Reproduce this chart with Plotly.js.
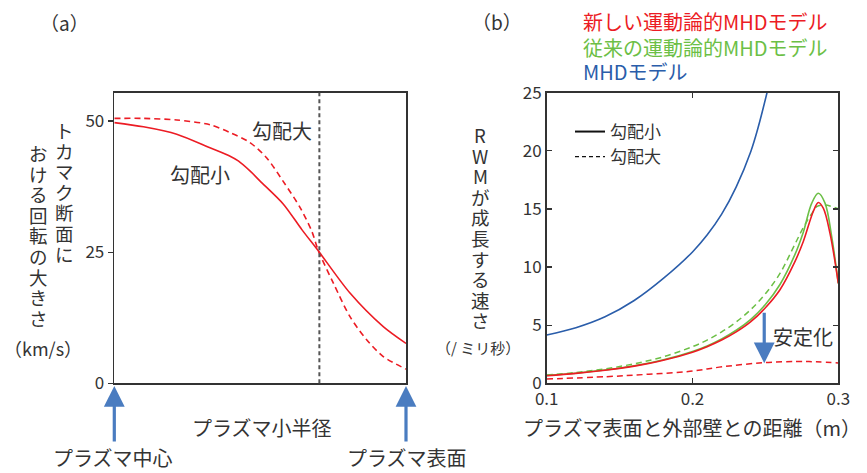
<!DOCTYPE html>
<html>
<head>
<meta charset="utf-8">
<script src="https://cdn.plot.ly/plotly-3.0.1.min.js"></script>
<style>
html,body{margin:0;padding:0;background:#fff;}
#chart{width:867px;height:473px;}
</style>
</head>
<body>
<div id="chart"></div>
<script>
// ---- Panel (a): rotation profile vs plasma minor radius (normalized) ----
const radiusSmall = [0, 0.10, 0.214, 0.328, 0.397, 0.425, 0.465, 0.499, 0.579, 0.643, 0.70, 0.808, 0.922, 1.0];
const rotSmall    = [49.7, 48.9, 47.5, 44.9, 43.3, 42.4, 40.5, 38.6, 34.2, 29.3, 25.2, 17.2, 10.8, 7.6];
const radiusLarge = [0, 0.10, 0.214, 0.328, 0.397, 0.465, 0.522, 0.579, 0.637, 0.677, 0.70, 0.751, 0.808, 0.865, 0.922, 1.0];
const rotLarge    = [50.5, 50.5, 50.2, 49.3, 47.8, 45.9, 43.0, 38.5, 33.5, 29.0, 25.2, 19.1, 12.7, 8.3, 5.1, 2.7];
const boundaryX   = [0.703];
const rotTicks    = [0, 25, 50];

// ---- Panel (b): RWM growth rate vs plasma-wall distance (m) ----
const distMHD   = [0.10, 0.12, 0.14, 0.16, 0.18, 0.20, 0.21, 0.22, 0.23, 0.24, 0.245, 0.2513];
const growthMHD = [4.16, 4.78, 5.72, 7.12, 9.02, 11.3, 12.75, 14.55, 16.9, 19.95, 22.0, 25.1];

const distNewSmall   = [0.10, 0.12, 0.14, 0.16, 0.18, 0.20, 0.21, 0.22, 0.23, 0.24, 0.25, 0.26, 0.27, 0.276, 0.2829, 0.2863, 0.2897, 0.2943, 0.30];
const growthNewSmall = [0.65, 0.85, 1.12, 1.48, 1.98, 2.68, 3.15, 3.72, 4.42, 5.30, 6.50, 8.05, 10.4, 12.2, 14.8, 15.55, 15.06, 12.9, 8.6];

const distOldSmall   = [0.10, 0.12, 0.14, 0.16, 0.18, 0.20, 0.21, 0.22, 0.23, 0.24, 0.25, 0.26, 0.27, 0.276, 0.2818, 0.2863, 0.2909, 0.2955, 0.30];
const growthOldSmall = [0.68, 0.87, 1.14, 1.51, 2.02, 2.74, 3.22, 3.82, 4.56, 5.50, 6.78, 8.50, 11.0, 13.0, 15.5, 16.35, 15.5, 12.6, 8.6];

const distOldLarge   = [0.10, 0.12, 0.14, 0.16, 0.18, 0.20, 0.21, 0.22, 0.23, 0.24, 0.25, 0.26, 0.27, 0.276, 0.2818, 0.2852, 0.2909, 0.2989, 0.30];
const growthOldLarge = [0.71, 0.93, 1.24, 1.68, 2.28, 3.15, 3.72, 4.42, 5.28, 6.35, 7.70, 9.45, 11.9, 13.4, 14.6, 15.2, 15.34, 15.06, 15.0];

const distNewLarge   = [0.10, 0.1412, 0.17, 0.1983, 0.2211, 0.2486, 0.2715, 0.285, 0.30];
const growthNewLarge = [0.37, 0.57, 0.78, 1.03, 1.43, 1.77, 1.88, 1.85, 1.75];

const distTicks   = [0.1, 0.2, 0.3];
const growthTicks = [0, 5, 10, 15, 20, 25];

// ---- Text ----
const panelA = '（a）', panelB = '（b）';
const modelNew = '新しい運動論的MHDモデル';
const modelOld = '従来の運動論的MHDモデル';
const modelMHD = 'MHDモデル';
const gradSmall = '勾配小', gradLarge = '勾配大';
const yTitleA1 = 'トカマク断面に', yTitleA2 = 'おける回転の大きさ', yUnitA = '（km/s）';
const yTitleB = ['R','W','M','が','成','長','す','る','速','さ'], yUnitB = '（/ ミリ秒）';
const xTitleA = 'プラズマ小半径', xTitleB = 'プラズマ表面と外部壁との距離（m）';
const centerLabel = 'プラズマ中心', surfaceLabel = 'プラズマ表面', stabLabel = '安定化';

// ---- Styles ----
const RED = '#ec1c24', GREEN = '#6cbf46', BLUE = '#2a5daa', ARROW = '#4a7cc0', INK = '#333333';
const FONT = 'Noto Sans CJK JP, Noto Sans, sans-serif';
const W = 867, H = 473;
const px = x => x / W, py = y => 1 - y / H;
const SPL = {shape:'spline', smoothing:1};

const traces = [
  {x: radiusSmall, y: rotSmall, xaxis:'x', yaxis:'y', mode:'lines', line:{color:RED, width:1.6, shape:'spline', smoothing:0.8}, showlegend:false},
  {x: radiusLarge, y: rotLarge, xaxis:'x', yaxis:'y', mode:'lines', line:{color:RED, width:1.6, dash:'6px,4px', shape:'spline', smoothing:0.8}, showlegend:false},
  {x: distMHD, y: growthMHD, xaxis:'x2', yaxis:'y2', mode:'lines', line:Object.assign({color:BLUE, width:1.6}, SPL), showlegend:false},
  {x: distOldLarge, y: growthOldLarge, xaxis:'x2', yaxis:'y2', mode:'lines', line:Object.assign({color:GREEN, width:1.5, dash:'6px,4px'}, SPL), showlegend:false},
  {x: distOldSmall, y: growthOldSmall, xaxis:'x2', yaxis:'y2', mode:'lines', line:Object.assign({color:GREEN, width:1.6}, SPL), showlegend:false},
  {x: distNewSmall, y: growthNewSmall, xaxis:'x2', yaxis:'y2', mode:'lines', line:Object.assign({color:RED, width:1.6}, SPL), showlegend:false},
  {x: distNewLarge, y: growthNewLarge, xaxis:'x2', yaxis:'y2', mode:'lines', line:Object.assign({color:RED, width:1.5, dash:'6px,4px'}, SPL), showlegend:false},
  {x: [null], y: [null], xaxis:'x2', yaxis:'y2', mode:'lines', name: gradSmall, line:{color:'#111', width:2}},
  {x: [null], y: [null], xaxis:'x2', yaxis:'y2', mode:'lines', name: gradLarge, line:{color:'#111', width:1.2, dash:'4px,3px'}}
];

const annotations = [];
function txt(text, x, y, size, color, xanchor) {
  annotations.push({text, x: px(x), y: py(y), xref:'paper', yref:'paper', showarrow:false,
    xanchor: xanchor || 'center', yanchor:'middle', font:{family:FONT, size, color: color || INK}});
}
txt(panelA, 64, 23, 19);
txt(panelB, 497, 22, 19);
txt(modelNew, 581, 22, 20, RED, 'left');
txt(modelOld, 581, 47, 20, GREEN, 'left');
txt(modelMHD, 581, 72, 20, BLUE, 'left');
// vertical (top-to-bottom) axis titles, one character per row
Array.from(yTitleA1).forEach((c, i) => txt(c, 64, 130 + i * 20.6, 18.5));
Array.from(yTitleA2).forEach((c, i) => txt(c, 38, 153 + i * 20.6, 18.5));
txt(yUnitA, 43, 348, 18);
yTitleB.forEach((c, i) => txt(c, 480, 135 + i * 20.6, 18.5));
txt(yUnitB, 478, 347, 15);
txt(xTitleA, 262, 427, 20);
txt(xTitleB, 692, 427, 20);
txt(centerLabel, 113, 457, 20);
txt(surfaceLabel, 407, 457, 20);

// in-plot labels
annotations.push({text: gradLarge, x: 0.574, y: 48.2, xref:'x', yref:'y', showarrow:false, font:{family:FONT, size:20, color:INK}});
annotations.push({text: gradSmall, x: 0.294, y: 39.8, xref:'x', yref:'y', showarrow:false, font:{family:FONT, size:20, color:INK}});
annotations.push({text: stabLabel, x: 0.2758, y: 4.0, xref:'x2', yref:'y2', showarrow:false, font:{family:FONT, size:20, color:INK}});
// stabilization arrow
annotations.push({text:'', x: 0.2492, y: 1.72, xref:'x2', yref:'y2', ax: 0.2492, ay: 6.2, axref:'x2', ayref:'y2',
  showarrow:true, arrowhead:2, arrowsize:1.3, arrowwidth:3.2, arrowcolor:ARROW});
// center / surface arrows
[0, 1].forEach(v => annotations.push({text:'', x: v, y: py(386), xref:'x', yref:'paper', ax: 0, ay: 57,
  showarrow:true, arrowhead:2, arrowsize:1.3, arrowwidth:3.2, arrowcolor:ARROW}));

const layout = {
  width: W, height: H,
  margin: {l:0, r:0, t:0, b:0},
  paper_bgcolor:'#fff', plot_bgcolor:'#fff',
  font: {family: FONT, color: INK},
  showlegend: true,
  legend: {x: px(570), y: py(114), xanchor:'left', yanchor:'top', bgcolor:'rgba(0,0,0,0)',
    font:{family:FONT, size:17, color:INK}, itemwidth:30, tracegroupgap:0},
  xaxis: {domain:[px(114.3), px(406)], range:[0, 1], showticklabels:false, ticks:'', showgrid:false, zeroline:false,
    showline:true, linecolor:INK, linewidth:1.6, mirror:true, anchor:'y'},
  yaxis: {domain:[py(383.3), py(92.7)], range:[0, 55.4], tickvals: rotTicks, ticks:'outside', ticklen:5, tickwidth:1.3, tickcolor:INK,
    showgrid:false, zeroline:false, showline:true, linecolor:INK, linewidth:1.6, mirror:true, anchor:'x',
    tickfont:{family:FONT, size:17, color:INK}},
  xaxis2: {domain:[px(546.7), px(838.3)], range:[0.1, 0.3], tickvals: distTicks, ticktext: distTicks.map(String), ticks:'inside', ticklen:5, tickwidth:1.3, tickcolor:INK,
    showgrid:false, zeroline:false, showline:true, linecolor:INK, linewidth:1.6, mirror:'ticks', anchor:'y2',
    tickfont:{family:FONT, size:17, color:INK}},
  yaxis2: {domain:[py(383.3), py(92.7)], range:[0, 25], tickvals: growthTicks, ticks:'inside', ticklen:5, tickwidth:1.3, tickcolor:INK,
    showgrid:false, zeroline:false, showline:true, linecolor:INK, linewidth:1.6, mirror:'ticks', anchor:'x2',
    tickfont:{family:FONT, size:17, color:INK}},
  shapes: boundaryX.map(b => ({type:'line', xref:'x', yref:'y domain', x0:b, x1:b, y0:0, y1:1,
    line:{color:'#555', width:2, dash:'4px,3px'}})),
  annotations
};

Plotly.newPlot('chart', traces, layout, {staticPlot:true});
</script>
</body>
</html>
